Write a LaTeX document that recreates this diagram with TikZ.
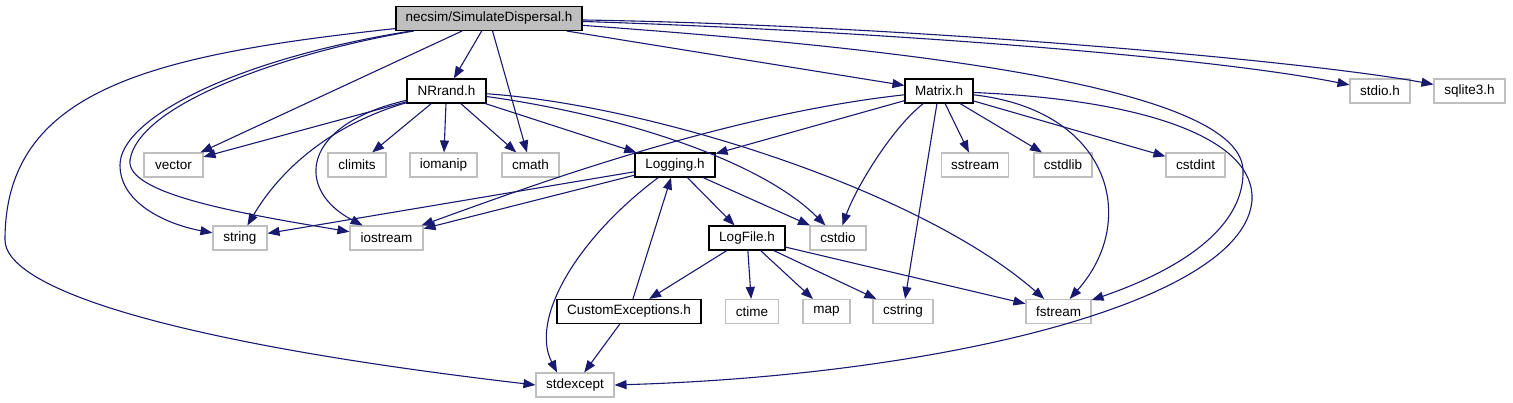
\documentclass[tikz,border=0pt]{standalone}
\usepackage{fontspec}
\setmainfont{Liberation Sans}
\usetikzlibrary{arrows.meta}
\definecolor{edgeblue}{HTML}{191970}
\definecolor{lgray}{HTML}{BFBFBF}
\begin{document}
\begin{tikzpicture}[x=1pt,y=-1pt,
  box/.style={draw=black, line width=1.1pt, minimum height=24pt, inner sep=0pt, font=\fontsize{13.5}{15}\selectfont},
  ext/.style={box, draw=lgray},
  root/.style={box, fill=lgray},
  e/.style={draw=edgeblue, line width=1.1pt, -{Triangle[length=12pt,width=9pt]}}]
\useasboundingbox (0,0) rectangle (1513,403);

% nodes
\node[root, minimum width=186pt] (SD) at (489,18.5) {necsim/SimulateDispersal.h};
\node[box, minimum width=79pt] (NR) at (446.5,91) {NRrand.h};
\node[box, minimum width=68pt] (MX) at (939,91) {Matrix.h};
\node[ext, minimum width=60pt] (stdio) at (1380,91) {stdio.h};
\node[ext, minimum width=71pt] (sqlite) at (1469.5,91) {sqlite3.h};
\node[ext, minimum width=59pt] (vector) at (173.5,165) {vector};
\node[ext, minimum width=58pt] (climits) at (357,165) {climits};
\node[ext, minimum width=67pt] (iomanip) at (443.5,165) {iomanip};
\node[ext, minimum width=57pt] (cmath) at (530.5,165) {cmath};
\node[box, minimum width=80pt] (LG) at (675,165) {Logging.h};
\node[ext, minimum width=67pt] (sstream) at (975,165) {sstream};
\node[ext, minimum width=58pt] (cstdlib) at (1063,165) {cstdlib};
\node[ext, minimum width=59pt] (cstdint) at (1195.5,165) {cstdint};
\node[ext, minimum width=54pt] (string) at (240,238) {string};
\node[ext, minimum width=73pt] (iostream) at (386.5,238) {iostream};
\node[box, minimum width=76pt] (LF) at (747,238) {LogFile.h};
\node[ext, minimum width=56pt] (cstdio) at (838,238) {cstdio};
\node[box, minimum width=144pt] (CE) at (629,311.5) {CustomExceptions.h};
\node[ext, minimum width=53pt] (ctime) at (752,311.5) {ctime};
\node[ext, minimum width=47pt] (map) at (826.5,311.5) {map};
\node[ext, minimum width=60pt] (cstring) at (903,311.5) {cstring};
\node[ext, minimum width=65pt] (fstream) at (1058.5,311.5) {fstream};
\node[ext, minimum width=78pt] (stdexcept) at (575,385) {stdexcept};

% SimulateDispersal.h
\draw[e] (SD) .. controls (150,55) and (5,90) .. (5,240) .. controls (5,285) and (150,340) .. (stdexcept.west);
\draw[e] (SD) .. controls (230,60) and (120,120) .. (120,165) .. controls (120,205) and (170,225) .. (string);
\draw[e] (SD) .. controls (300,50) and (140,100) .. (130,160) .. controls (125,195) and (250,215) .. (iostream);
\draw[e] (SD) -- (vector);
\draw[e] (SD) -- (NR);
\draw[e] (SD) -- (cmath);
\draw[e] (SD) -- (MX);
\draw[e] (SD) .. controls (850,30) and (1200,55) .. (stdio);
\draw[e] (SD) .. controls (900,25) and (1300,60) .. (sqlite);
\draw[e] (SD) .. controls (850,45) and (1240,80) .. (1243,170) .. controls (1245,240) and (1150,280) .. (fstream);

% NRrand.h
\draw[e] (NR) -- (vector);
\draw[e] (NR) -- (climits);
\draw[e] (NR) -- (iomanip);
\draw[e] (NR) -- (cmath);
\draw[e] (NR) -- (LG);
\draw[e] (NR) .. controls (330,125) and (280,170) .. (string);
\draw[e] (NR) .. controls (300,125) and (295,190) .. (iostream);
\draw[e] (NR) .. controls (620,115) and (760,160) .. (cstdio);
\draw[e] (NR) .. controls (650,105) and (920,190) .. (fstream);

% Logging.h
\draw[e] (LG) -- (string);
\draw[e] (LG) -- (iostream);
\draw[e] (LG) -- (LF);
\draw[e] (LG) -- (cstdio);
\draw[e] (LG) .. controls (575,240) and (530,320) .. (stdexcept.145);

% CustomExceptions.h
\draw[e] (CE) -- (LG);
\draw[e] (CE) -- (stdexcept);

% LogFile.h
\draw[e] (LF) -- (CE);
\draw[e] (LF) -- (ctime);
\draw[e] (LF) -- (map);
\draw[e] (LF) -- (cstring);
\draw[e] (LF) -- (fstream);

% Matrix.h
\draw[e] (MX) .. controls (720,115) and (520,190) .. (iostream);
\draw[e] (MX) -- (LG);
\draw[e] (MX) .. controls (890,130) and (855,190) .. (cstdio);
\draw[e] (MX) -- (cstring);
\draw[e] (MX) -- (sstream);
\draw[e] (MX) -- (cstdlib);
\draw[e] (MX) -- (cstdint);
\draw[e] (MX) .. controls (1110,110) and (1140,220) .. (fstream);
\draw[e] (MX) .. controls (1150,100) and (1255,140) .. (1252,200) .. controls (1245,300) and (950,375) .. (stdexcept.east);
\end{tikzpicture}
\end{document}
